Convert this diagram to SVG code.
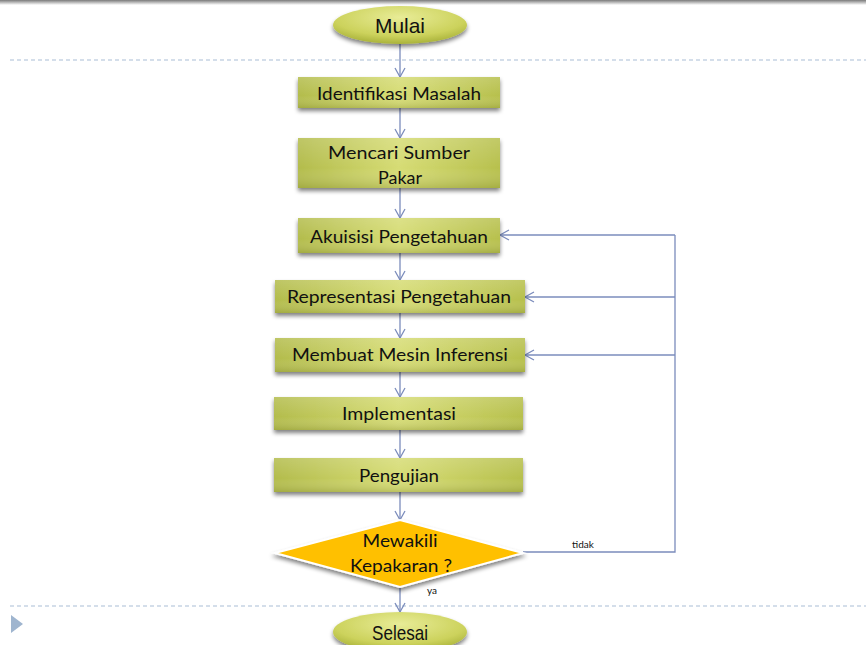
<svg xmlns="http://www.w3.org/2000/svg" width="866" height="645" viewBox="0 0 866 645">
<defs>
<linearGradient id="top" x1="0" y1="0" x2="0" y2="1"><stop offset="0" stop-color="#7a7a7a"/><stop offset="1" stop-color="#ffffff"/></linearGradient>
<linearGradient id="box" x1="0" y1="0" x2="1" y2="0"><stop offset="0" stop-color="#b3bc4c"/><stop offset="0.5" stop-color="#d6dc74"/><stop offset="1" stop-color="#b7c04d"/></linearGradient>
<linearGradient id="boxv" x1="0" y1="0" x2="0" y2="1"><stop offset="0" stop-color="#ffffff" stop-opacity="0.15"/><stop offset="0.6" stop-color="#ffffff" stop-opacity="0"/><stop offset="1" stop-color="#6d7420" stop-opacity="0.25"/></linearGradient>
<radialGradient id="ell" cx="0.5" cy="0.3" r="0.7"><stop offset="0" stop-color="#e8ec97"/><stop offset="0.7" stop-color="#ccd25c"/><stop offset="1" stop-color="#a9b23a"/></radialGradient>
<filter id="sh" x="-10%" y="-20%" width="120%" height="160%"><feGaussianBlur in="SourceAlpha" stdDeviation="2"/><feOffset dx="0" dy="3"/><feComponentTransfer><feFuncA type="linear" slope="0.5"/></feComponentTransfer><feMerge><feMergeNode/><feMergeNode in="SourceGraphic"/></feMerge></filter>
<marker id="ar" markerWidth="14" markerHeight="14" refX="10" refY="6" orient="auto" markerUnits="userSpaceOnUse"><path d="M1,1 L10,6 L1,11" fill="none" stroke="#7b8cbc" stroke-width="1.3"/></marker>
<style>
.bx{fill:url(#box);filter:url(#sh)}
.ov{fill:url(#boxv)}
.t{font-family:Lato,"Open Sans",sans-serif;font-size:18px;fill:#111;text-anchor:middle}
.n{font-family:"Liberation Sans",Arial,sans-serif;font-size:21px;fill:#111;text-anchor:middle}
.s{font-family:Lato,"Open Sans",sans-serif;font-size:10px;fill:#111}
.c{fill:none;stroke:#7b8cbc;stroke-width:1.3;marker-end:url(#ar)}
.l{fill:none;stroke:#7b8cbc;stroke-width:1.3}
.d{stroke:#a9bdd6;stroke-width:1.2;stroke-dasharray:4 3}
</style>
</defs>
<rect width="866" height="645" fill="#fff"/>
<rect x="0" y="0" width="866" height="5" fill="url(#top)"/>
<line class="d" x1="10" y1="60" x2="866" y2="60"/>
<line class="d" x1="10" y1="606" x2="866" y2="606"/>
<polygon points="11,615 23,624 11,633" fill="#9fb5cf"/>

<g id="connectors">
<path class="c" d="M400,44 V77"/>
<path class="c" d="M400,108 V138"/>
<path class="c" d="M400,188 V218"/>
<path class="c" d="M400,253 V280"/>
<path class="c" d="M400,313 V338"/>
<path class="c" d="M400,372 V397"/>
<path class="c" d="M400,430 V458"/>
<path class="c" d="M400,492 V520"/>
<path class="c" d="M400,587 V612"/>
<path class="l" d="M523,552 H675 V235"/>
<path class="c" d="M675,235 H500"/>
<path class="c" d="M675,297 H525"/>
<path class="c" d="M675,355 H525"/>
<text class="s" x="572" y="548">tidak</text>
<text class="s" x="427" y="594">ya</text>
</g>

<g id="mulai"><ellipse cx="400" cy="25" rx="67" ry="19" fill="url(#ell)" filter="url(#sh)"/><text class="n" x="400" y="33" textLength="50" lengthAdjust="spacingAndGlyphs">Mulai</text></g>
<g id="identifikasi"><rect class="bx" x="298" y="77" width="202" height="31"/><rect class="ov" x="298" y="77" width="202" height="31"/><text class="t" x="399" y="100" textLength="164" lengthAdjust="spacingAndGlyphs">Identifikasi Masalah</text></g>
<g id="mencari"><rect class="bx" x="298" y="138" width="202" height="50"/><rect class="ov" x="298" y="138" width="202" height="50"/><text class="t" x="399" y="159" textLength="142" lengthAdjust="spacingAndGlyphs">Mencari Sumber</text><text class="t" x="400" y="184" textLength="44" lengthAdjust="spacingAndGlyphs">Pakar</text></g>
<g id="akuisisi"><rect class="bx" x="298" y="218" width="202" height="35"/><rect class="ov" x="298" y="218" width="202" height="35"/><text class="t" x="399" y="243" textLength="178" lengthAdjust="spacingAndGlyphs">Akuisisi Pengetahuan</text></g>
<g id="representasi"><rect class="bx" x="275" y="280" width="250" height="33"/><rect class="ov" x="275" y="280" width="250" height="33"/><text class="t" x="399" y="303" textLength="224" lengthAdjust="spacingAndGlyphs">Representasi Pengetahuan</text></g>
<g id="membuat"><rect class="bx" x="275" y="338" width="250" height="34"/><rect class="ov" x="275" y="338" width="250" height="34"/><text class="t" x="400" y="361" textLength="216" lengthAdjust="spacingAndGlyphs">Membuat Mesin Inferensi</text></g>
<g id="implementasi"><rect class="bx" x="274" y="397" width="249" height="33"/><rect class="ov" x="274" y="397" width="249" height="33"/><text class="t" x="399" y="420" textLength="114" lengthAdjust="spacingAndGlyphs">Implementasi</text></g>
<g id="pengujian"><rect class="bx" x="274" y="458" width="249" height="34"/><rect class="ov" x="274" y="458" width="249" height="34"/><text class="t" x="399" y="482" textLength="80" lengthAdjust="spacingAndGlyphs">Pengujian</text></g>
<g id="mewakili"><polygon points="400,520 523,553 400,587 275,553" fill="#ffc000" stroke="#fff" stroke-width="2" filter="url(#sh)"/><text class="t" x="400" y="547" textLength="75" lengthAdjust="spacingAndGlyphs">Mewakili</text><text class="t" x="401" y="572" textLength="102" lengthAdjust="spacingAndGlyphs">Kepakaran ?</text></g>
<g id="selesai"><ellipse cx="400" cy="632" rx="67" ry="20" fill="url(#ell)" filter="url(#sh)"/><text class="n" x="400" y="640" textLength="56" lengthAdjust="spacingAndGlyphs">Selesai</text></g>
</svg>
